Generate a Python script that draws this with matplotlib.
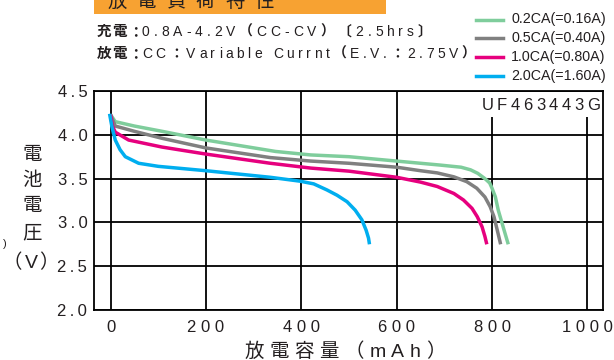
import matplotlib
matplotlib.use("Agg")
import matplotlib.pyplot as plt
from matplotlib import font_manager
from matplotlib.lines import Line2D
from matplotlib.patches import Rectangle
from matplotlib.transforms import IdentityTransform

# --- discharge curves, capacity (mAh) vs cell voltage (V) ---
cap_02 = [0, 10, 50, 108, 200, 346, 420, 500, 600, 650, 690, 735, 755, 770, 785, 795, 800, 807, 813, 821, 828, 834]
v_02 = [4.23, 4.15, 4.10, 4.04, 3.94, 3.81, 3.77, 3.75, 3.70, 3.675, 3.655, 3.63, 3.60, 3.56, 3.50, 3.45, 3.39, 3.29, 3.14, 2.99, 2.86, 2.75]

cap_05 = [0, 10, 50, 108, 200, 335, 420, 500, 600, 650, 685, 720, 747, 768, 785, 796, 804, 811, 818]
v_05 = [4.23, 4.10, 4.04, 3.96, 3.85, 3.74, 3.70, 3.675, 3.63, 3.59, 3.565, 3.52, 3.465, 3.39, 3.29, 3.18, 3.065, 2.91, 2.75]

cap_10 = [0, 4, 10, 38, 108, 200, 335, 420, 500, 600, 650, 685, 720, 740, 758, 769, 779, 785, 789]
v_10 = [4.23, 4.10, 4.03, 3.94, 3.86, 3.78, 3.675, 3.62, 3.585, 3.515, 3.46, 3.41, 3.33, 3.256, 3.16, 3.065, 2.95, 2.84, 2.75]

cap_20 = [-2, 3, 10, 20, 31, 59, 100, 200, 335, 398, 426, 454, 475, 496, 513, 527, 536, 541, 543]
v_20 = [4.24, 4.09, 3.94, 3.83, 3.75, 3.675, 3.64, 3.59, 3.515, 3.47, 3.44, 3.37, 3.31, 3.236, 3.14, 3.03, 2.91, 2.82, 2.75]

series = [
    ("0.2CA(=0.16A)", cap_02, v_02, "#7fcd9c"),
    ("0.5CA(=0.40A)", cap_05, v_05, "#808080"),
    ("1.0CA(=0.80A)", cap_10, v_10, "#e6007e"),
    ("2.0CA(=1.60A)", cap_20, v_20, "#00aeef"),
]

x_ticks = [0, 200, 400, 600, 800, 1000]
y_ticks = [2.0, 2.5, 3.0, 3.5, 4.0, 4.5]

W, H, DPI = 614, 360, 100
INK = "#231f20"
LATIN = "Liberation Sans"
CJK = "Noto Sans CJK JP"
names = {f.name for f in font_manager.fontManager.ttflist}
NARROW = "Liberation Sans Narrow" if "Liberation Sans Narrow" in names else LATIN

fig = plt.figure(figsize=(W / DPI, H / DPI), dpi=DPI)
ax = fig.add_axes([94.3 / W, 50 / H, 508.4 / W, 219 / H])

for label, xs, ys, col in series:
    ax.plot(xs, ys, color=col, lw=2.5, solid_capstyle="butt", solid_joinstyle="round", zorder=3)

ax.set_xlim(-34, 1032)
ax.set_ylim(2.0, 4.5)
ax.set_xticks(x_ticks)
ax.set_xticklabels([" ".join(str(t)) for t in x_ticks])
ax.set_yticks(y_ticks)
ax.set_yticklabels(["\u2009".join(f"{t:.1f}") for t in y_ticks])
ax.tick_params(length=0, labelsize=12, colors=INK)
ax.tick_params(axis="x", pad=7)
ax.tick_params(axis="y", pad=5)
for lab in ax.get_xticklabels() + ax.get_yticklabels():
    lab.set_family([LATIN, "DejaVu Sans"])
ax.grid(True, color="black", lw=1.3)
for sp in ax.spines.values():
    sp.set_linewidth(1.3)

# white patch behind the model name, gridlines stop under it
ax.add_patch(Rectangle((480, H - 117), 121, 25, transform=IdentityTransform(),
                       facecolor="white", edgecolor="none", zorder=2.2, clip_on=False))

r = fig.canvas.get_renderer()


def spaced(x, y, s, track, size, weight="normal", cjk_weight="normal", ha="left"):
    # lay out glyphs one by one with extra tracking; x, y = pixels from top-left, y is the baseline
    arts, widths = [], []
    for ch in s:
        wide = ord(ch) > 0x2000
        t = fig.text(0, 0, ch, fontsize=size, color=INK, va="baseline", ha="left",
                     family=CJK if wide else LATIN,
                     fontweight=cjk_weight if wide else weight,
                     transform=IdentityTransform())
        w = size * DPI / 72 * 0.28 if ch == " " else t.get_window_extent(r).width
        arts.append(t)
        widths.append(w)
    total = sum(widths) + track * (len(s) - 1)
    x0 = {"left": x, "center": x - total / 2, "right": x - total}[ha]
    for t, w in zip(arts, widths):
        t.set_position((x0, H - y))
        x0 += w + track


# orange title strip
fig.patches.append(Rectangle((94, H - 14), 292, 14, transform=IdentityTransform(),
                             facecolor="#f7a232", edgecolor="none"))
spaced(107, 7, "放電負荷特性", 10, 14)

spaced(97, 36, "充電：", 1, 10.5, cjk_weight="bold")
spaced(142, 36, "0.8A-4.2V（CC-CV）〔2.5hrs〕", 3.9, 10, cjk_weight="bold")
spaced(97, 58, "放電：", 1, 10.5, cjk_weight="bold")
spaced(142, 58, "CC：Variable Currnt（E.V.：2.75V）", 3.5, 10, cjk_weight="bold")

# legend drawn by hand at the top right
for i, (label, xs, ys, col) in enumerate(series):
    yy = H - (19.5 + 18.9 * i)
    fig.add_artist(Line2D([476, 503], [yy, yy], color=col, lw=2.5, transform=IdentityTransform()))
    fig.text(511, yy, label, fontsize=12 if NARROW != LATIN else 10.3, family=NARROW,
             color=INK, va="center", ha="left", transform=IdentityTransform())

spaced(600, 110, "UF463443G", 3.5, 12, ha="right")

# axis titles
for ch, yb in zip("電池電圧", [160, 186, 211, 238]):
    spaced(32, yb, ch, 0, 14, ha="center")
spaced(31, 268, "（V）", 2, 14, ha="center")
fig.text(5, H - 244, ")", fontsize=8, color=INK, va="center", ha="center",
         family=LATIN, transform=IdentityTransform())
spaced(345, 357, "放電容量（mAh）", 5.5, 14, ha="center")

fig.savefig("out.png", dpi=DPI)
